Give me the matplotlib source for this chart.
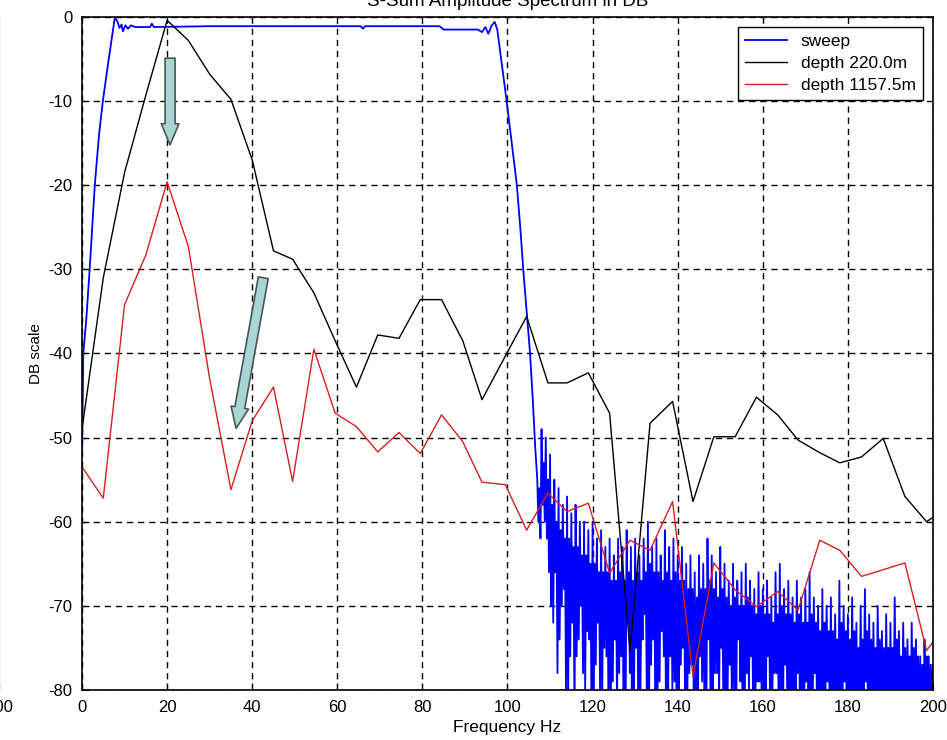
import numpy as np
import matplotlib
matplotlib.use("Agg")
import matplotlib.pyplot as plt

plt.rcParams['font.family'] = ['Liberation Sans', 'DejaVu Sans']
plt.rcParams['axes.unicode_minus'] = False

# sampled spectra of the two receivers (Hz, dB)
trace_freq = [0, 5, 10, 15, 20, 25, 30, 35, 40, 45, 49.5, 54.5, 59.5, 64.5,
              69.5, 74.5, 79.5, 84.5, 89.5, 94, 99.5, 104.5, 109.5, 114, 119,
              124, 128.8, 133.5, 138.8, 143.6, 148.5, 153.5, 158.5, 163.5,
              168.3, 173.4, 178.1, 183.2, 188.3, 193.4, 198.5, 203.5]
depth_220 = [-49, -31, -18.5, -9.3, -0.4, -2.8, -6.8, -9.8, -17, -27.8, -28.8,
             -32.8, -38.5, -44, -37.8, -38.2, -33.6, -33.6, -38.5, -45.5, -40.3,
             -35.6, -43.5, -43.5, -42.3, -47.1, -75.3, -48.3, -45.7, -57.6,
             -49.9, -49.9, -45.2, -47.3, -50.3, -51.8, -53, -52.3, -50.1, -57,
             -60, -58.3]
depth_1157 = [-53.5, -57.2, -34.2, -28.3, -19.6, -27.3, -43, -56.2, -48, -44,
              -55.2, -39.5, -47.1, -48.7, -51.7, -49.4, -51.9, -47.3, -50.5,
              -55.3, -55.6, -61, -56.6, -58.8, -57.8, -66.1, -62.2, -63.4, -57.6,
              -78.4, -64.9, -68.1, -70.1, -68.3, -70.5, -62.2, -63.4, -66.5,
              -65.7, -64.9, -75.3, -72]

# sweep: passband part
sweep_freq = [0, 0.3, 1, 1.8, 3, 4, 4.9, 6, 7, 7.7, 8.3, 8.8, 9.3, 9.6, 10.2,
              10.8, 11.5, 12.5, 16, 16.4, 16.9, 30, 50, 65.5, 66, 66.5, 84, 85,
              93, 94, 94.8, 95.5, 96.3, 97, 97.6, 98.5, 99.8, 101, 102.2, 103,
              103.7, 104.5, 105.3, 106, 106.5]
sweep_db = [-52, -40, -36, -30, -20, -14, -10, -6, -2.5, -0.1, -0.5, -1.3,
            -0.9, -1.7, -1.0, -1.4, -1.0, -1.2, -1.2, -0.8, -1.2, -1.1, -1.1,
            -1.1, -1.4, -1.1, -1.1, -1.5, -1.5, -1.8, -1.2, -2.0, -1.0, -0.6,
            -1.5, -5, -10, -15, -20, -25, -30, -35, -40, -46, -51]

# sweep: noise above the band, one group per Hz from 107 to 200 Hz
# spike top, low, top of the solid band, low again
noise_peaks = [-55, -49, -50, -52, -55, -56, -58, -57, -59, -58, -60, -60, -61,
               -60, -62, -61, -63, -62, -64, -62, -63, -61, -63, -62, -64, -62,
               -60, -63, -62, -64, -61, -63, -62, -64, -63, -65, -64, -66, -64,
               -65, -62, -64, -66, -63, -65, -67, -65, -67, -66, -65, -67, -68,
               -66, -68, -67, -69, -66, -65, -68, -67, -69, -67, -69, -68, -66,
               -69, -70, -68, -70, -69, -71, -67, -70, -71, -69, -72, -70, -68,
               -71, -72, -70, -73, -71, -72, -69, -73, -72, -74, -72, -74, -76,
               -74, -76, -77]
noise_troughs = [-60, -58, -62, -70, -66, -74, -68, -82, -72, -76, -70, -80,
                 -74, -84, -72, -82, -76, -84, -74, -78, -82, -72, -84, -75, -80,
                 -71, -84, -74, -82, -73, -84, -76, -79, -84, -75, -82, -77, -84,
                 -76, -80, -74, -84, -78, -75, -83, -77, -80, -74, -84, -78, -76,
                 -82, -79, -84, -76, -81, -78, -84, -77, -80, -84, -78, -82, -79,
                 -84, -78, -81, -84, -79, -82, -80, -84, -79, -83, -80, -84, -81,
                 -79, -84, -82, -80, -84, -81, -84, -80, -83, -84, -81, -84, -82,
                 -84, -80, -84, -84]
noise_core = [-56, -53, -55, -58, -60, -61, -62, -62, -63, -63,
              -64, -64, -65, -65, -66, -66, -66, -67, -67, -66,
              -67, -66, -67, -66, -67, -66, -65, -66, -66, -67,
              -66, -67, -66, -67, -67, -68, -68, -69, -68, -68,
              -67, -68, -69, -68, -69, -70, -69, -70, -70, -69,
              -70, -71, -70, -71, -71, -72, -71, -70, -71, -71,
              -72, -71, -72, -72, -71, -72, -73, -72, -73, -73,
              -74, -72, -73, -74, -73, -75, -74, -73, -74, -75,
              -74, -75, -75, -75, -74, -76, -75, -76, -75, -76,
              -77, -76, -77, -78]
noise_troughs2 = [-62, -60, -66, -72, -78, -70, -80, -76, -84, -74,
                  -78, -73, -84, -77, -80, -75, -84, -79, -82, -76,
                  -84, -78, -80, -84, -74, -82, -77, -84, -79, -76,
                  -82, -80, -84, -77, -83, -78, -80, -84, -79, -82,
                  -84, -78, -81, -84, -80, -82, -84, -79, -83, -80,
                  -84, -79, -82, -80, -84, -78, -83, -84, -81, -84,
                  -80, -84, -82, -84, -81, -83, -84, -80, -84, -82,
                  -84, -81, -84, -83, -84, -82, -80, -84, -83, -84,
                  -81, -84, -84, -82, -84, -83, -84, -84, -82, -84,
                  -84, -83, -84, -84]

peak_f = np.arange(107, 107 + len(noise_peaks))
noise_f = np.column_stack([peak_f, peak_f + 0.25, peak_f + 0.5, peak_f + 0.75]).ravel()
noise_db = np.column_stack([noise_peaks, noise_troughs, noise_core, noise_troughs2]).ravel()
sweep_all_f = np.concatenate([sweep_freq, noise_f])
sweep_all_db = np.concatenate([sweep_db, noise_db])

xticks = np.arange(0, 201, 20)
yticks = np.arange(-80, 1, 10)

fig = plt.figure(figsize=(9.47, 7.4), dpi=100)
ax = fig.add_axes([0.0866, 0.0676, 0.8986, 0.9095])

ax.plot(sweep_all_f, sweep_all_db, color='#0000ff', lw=1.3, label='sweep')
ax.plot(trace_freq, depth_220, color='k', lw=1.0, label='depth 220.0m')
ax.plot(trace_freq, depth_1157, color='#d42020', lw=1.0, label='depth 1157.5m')

ax.set_xlim(0, 200)
ax.set_ylim(-80, 0)
ax.set_xticks(xticks)
ax.set_yticks(yticks)
ax.tick_params(direction='in', length=5, labelsize=12, pad=7)
ax.grid(True, color='k', linestyle=(0, (4.5, 3.5)), lw=1.0)
for s in ax.spines.values():
    s.set_linewidth(1.2)

ax.set_xlabel('Frequency Hz', fontsize=12.5, labelpad=4)
ax.set_ylabel('DB scale', fontsize=11, labelpad=4)
ax.set_title('S-Sum Amplitude Spectrum in DB', fontsize=13.5, pad=8)

leg = ax.legend(loc='upper right', fontsize=12.5, fancybox=False,
                framealpha=1, edgecolor='k', handlelength=2.4,
                borderaxespad=0.6, labelspacing=0.38)
leg.get_frame().set_linewidth(1.0)

# hand-drawn arrows on the figure
arrow_style = 'simple,head_length=0.95,head_width=0.8,tail_width=0.45'
for tail, tip in [((20.7, -4.9), (20.7, -15.2)), ((42.6, -31.0), (36.2, -48.9))]:
    ax.annotate('', xy=tip, xytext=tail,
                arrowprops=dict(arrowstyle=arrow_style, mutation_scale=16,
                                fc='#a8d6d4', ec='#4a5656', lw=1.2,
                                shrinkA=0, shrinkB=0))

# neighbouring panel cut off at the left edge
ax0 = fig.add_axes([-0.9, 0.0676, 0.8990, 0.9095])
ax0.set_xlim(0, 200)
ax0.set_ylim(-80, 0)
ax0.set_xticks(xticks)
ax0.tick_params(direction='in', length=5, labelsize=12, pad=7)

fig.savefig('out.png', dpi=100)
